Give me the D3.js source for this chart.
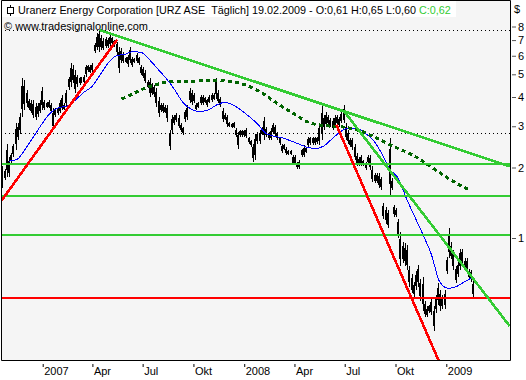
<!DOCTYPE html>
<html>
<head>
<meta charset="utf-8">
<script src="https://cdnjs.cloudflare.com/ajax/libs/d3/7.8.5/d3.min.js"></script>
<style>
  html, body { margin: 0; padding: 0; background: #fff; }
  svg { display: block; font-family: "Liberation Sans", sans-serif; }
</style>
</head>
<body>
<div id="chart"></div>
<script>
// Daily range, every few days (first bar 20.10.2006, last 19.02.2009)
const highs = [
  2.02,1.98,2.53,2.22,2.30,2.53,3.09,3.09,3.41,4.81,
  4.73,4.29,3.94,3.88,3.88,3.76,3.76,3.88,4.43,3.88,
  3.82,3.88,3.76,3.58,3.58,3.64,3.88,4.08,3.76,4.29,
  4.89,5.57,5.48,5.22,4.97,4.89,4.89,4.97,5.48,5.48,
  5.48,5.57,6.78,7.48,7.73,7.36,7.13,7.24,7.13,7.36,
  7.24,7.00,6.89,6.56,6.45,6.25,5.95,6.05,6.56,5.95,
  5.85,6.15,5.95,5.48,5.39,5.22,4.73,4.81,4.58,4.50,
  4.36,4.01,3.76,3.76,3.70,3.70,2.89,3.35,3.35,3.41,
  3.35,3.09,2.99,3.52,3.70,4.36,4.29,4.15,3.76,3.82,
  4.08,4.08,4.01,3.94,4.08,4.15,4.15,4.81,4.29,4.01,
  3.58,3.41,3.35,3.14,3.09,3.14,2.94,2.84,2.89,2.89,
  2.89,2.94,2.71,2.62,2.53,2.79,2.84,2.89,2.99,3.30,
  2.99,2.84,2.94,3.09,3.04,2.84,2.71,2.53,2.53,2.45,
  2.38,2.38,2.26,2.26,2.12,2.15,2.41,2.49,2.45,2.71,
  2.71,2.71,2.71,2.71,3.09,3.66,3.35,3.46,3.35,3.24,
  3.24,3.35,3.35,3.30,3.46,3.70,3.09,2.89,2.67,2.67,
  2.53,2.30,2.22,2.26,2.15,2.12,2.26,2.26,2.02,1.89,
  1.89,1.89,1.83,1.41,1.36,1.32,2.68,1.80,1.39,1.34,
  1.21,1.06,0.96,0.95,0.93,0.76,0.70,0.65,0.72,0.77,
  0.67,0.68,0.54,0.51,0.52,0.55,0.51,0.57,0.64,0.60,
  0.57,0.60,0.83,1.10,0.96,0.89,0.76,0.79,0.90,0.90,
  0.82,0.82,0.74,0.73,0.66
];
const lows = [
  1.63,1.77,1.83,1.83,2.08,2.22,2.38,2.62,2.79,3.30,
  3.52,3.64,3.52,3.41,3.24,3.19,3.30,3.41,3.52,3.52,
  3.58,3.58,3.41,2.89,3.30,3.35,3.41,3.52,3.52,3.64,
  4.29,4.43,4.58,4.15,4.43,4.50,4.58,4.58,4.89,5.13,
  5.05,5.13,6.15,6.35,6.25,6.35,6.35,6.45,6.45,6.56,
  6.67,6.56,6.05,5.05,5.57,5.57,5.57,5.39,5.57,5.39,
  5.57,5.57,5.48,4.97,4.81,4.58,4.36,4.01,4.08,4.01,
  3.64,3.30,3.46,3.41,3.41,3.14,2.38,2.79,3.04,3.14,
  2.94,2.84,2.75,3.14,3.19,3.76,3.70,3.76,3.52,3.58,
  3.70,3.70,3.76,3.64,3.76,3.82,3.88,3.94,3.76,3.64,
  3.14,3.19,2.99,2.99,2.94,2.94,2.71,2.41,2.71,2.71,
  2.71,2.67,2.53,2.45,2.12,2.15,2.53,2.53,2.75,2.62,
  2.71,2.62,2.62,2.79,2.71,2.62,2.49,2.30,2.38,2.26,
  2.26,2.26,2.05,2.05,1.98,1.98,2.22,2.22,2.30,2.45,
  2.49,2.49,2.49,2.53,2.49,2.62,2.89,2.99,3.04,2.99,
  2.89,2.94,3.04,2.99,3.09,3.09,2.62,2.53,2.45,2.38,
  2.15,2.02,2.02,2.02,2.02,1.95,2.08,1.95,1.74,1.71,
  1.71,1.63,1.60,1.21,1.15,1.10,1.52,1.60,1.23,1.23,
  1.00,0.76,0.78,0.76,0.73,0.62,0.58,0.56,0.60,0.62,
  0.54,0.49,0.46,0.46,0.48,0.47,0.40,0.48,0.52,0.49,
  0.50,0.50,0.70,0.82,0.81,0.73,0.64,0.68,0.73,0.77,
  0.73,0.72,0.67,0.65,0.56
];

// Blue average, one reading every 15 days from 01.11.2006
const avgValues = [
  2.13,2.17,2.41,2.72,3.08,3.42,3.60,3.66,3.88,4.18,
  4.43,4.97,5.60,6.01,6.09,6.25,6.19,5.75,5.25,4.79,
  4.30,3.79,3.55,3.47,3.51,3.69,3.79,3.71,3.52,3.30,
  3.07,2.80,2.72,2.68,2.60,2.52,2.44,2.41,2.47,2.65,
  2.84,2.95,2.94,2.80,2.61,2.30,1.96,1.80,1.47,1.23,
  1.03,0.85,0.65,0.61,0.62,0.65,0.68
];

// Dotted dark green average
const longAvgDates = [
  "2007-05-24","2007-06-01","2007-07-01","2007-08-01","2007-09-01","2007-10-01","2007-11-01","2007-12-01",
  "2008-01-01","2008-02-01","2008-03-01","2008-04-01","2008-05-01","2008-06-01","2008-07-01","2008-08-01",
  "2008-09-01","2008-10-01","2008-11-01","2008-12-01","2009-01-01","2009-02-01","2009-02-10"
];
const longAvgValues = [
  3.92,4.00,4.32,4.56,4.68,4.68,4.70,4.68,
  4.52,4.18,3.75,3.38,3.09,3.01,2.97,2.85,
  2.64,2.44,2.26,2.04,1.82,1.65,1.61
];

// Horizontal levels
const greenLevels = [2.07, 1.51, 1.03];
const redLevels = [0.554];
const dottedLevels = [7.73, 2.82];

// Trend lines: [start date, start price, end date, end price]
const greenTrends = [
  ["2007-04-14", 7.73, "2009-04-26", 2.02],
  ["2008-07-01", 3.45, "2009-04-26", 0.42]
];
const redTrends = [
  ["2006-10-19", 1.45, "2007-05-16", 7.05],
  ["2008-06-16", 3.04, "2008-12-18", 0.30]
];

const priceTicks = [1, 2, 3, 4, 5, 6, 7, 8];
const timeTicks = ["2007-01-01","2007-04-01","2007-07-01","2007-10-01","2008-01-01","2008-04-01","2008-07-01","2008-10-01","2009-01-01"];
const timeLabels = ["2007","Apr","Jul","Okt","2008","Apr","Jul","Okt","2009"];

const titleText = "Uranerz Energy Corporation [URZ ASE\u00a0\u00a0Täglich] 19.02.2009 - O:0,61 H:0,65 L:0,60 ";
const closeText = "C:0,62";
const creditText = "© www.tradesignalonline.com";

const width = 526, height = 380;
const plot = { left: 2, right: 510, top: 1, bottom: 360 };
const day = d3.utcParse("%Y-%m-%d");

const x = d3.scaleUtc()
  .domain([day("2007-01-01"), day("2009-01-01")])
  .range([42.7, 446.3]);

const y = d3.scaleLog()
  .domain([1, 8])
  .range([238, 26.5]);

const svg = d3.select("#chart")
  .append("svg")
  .attr("width", width)
  .attr("height", height);

svg.append("defs")
  .append("clipPath")
  .attr("id", "plot-clip")
  .append("rect")
  .attr("x", plot.left)
  .attr("y", plot.top)
  .attr("width", plot.right - plot.left)
  .attr("height", plot.bottom - plot.top);

// Plot background
svg.append("rect")
  .attr("x", plot.left)
  .attr("y", plot.top)
  .attr("width", plot.right - plot.left)
  .attr("height", plot.bottom - plot.top)
  .attr("fill", "#f5f5f5");

const marks = svg.append("g").attr("clip-path", "url(#plot-clip)");

// Dotted levels
marks.selectAll(".dotted")
  .data(dottedLevels)
  .enter()
  .append("line")
  .attr("x1", plot.left + 3)
  .attr("x2", plot.right)
  .attr("y1", d => Math.round(y(d)) + 0.5)
  .attr("y2", d => Math.round(y(d)) + 0.5)
  .attr("stroke", "#000")
  .attr("stroke-dasharray", "1 3");

// Bars: 1px wick over the full range, thicker through the middle of it
const firstBar = day("2006-10-20");
const barDates = highs.map((d, i) => d3.utcDay.offset(firstBar, Math.round(i * 853 / (highs.length - 1))));

marks.selectAll(".wick")
  .data(highs)
  .enter()
  .append("line")
  .attr("class", "wick")
  .attr("x1", (d, i) => Math.round(x(barDates[i])) + 0.5)
  .attr("x2", (d, i) => Math.round(x(barDates[i])) + 0.5)
  .attr("y1", d => y(d))
  .attr("y2", (d, i) => y(lows[i]))
  .attr("stroke", "#000")
  .attr("stroke-width", 1)
  .attr("shape-rendering", "crispEdges");

marks.selectAll(".bar")
  .data(highs)
  .enter()
  .append("line")
  .attr("class", "bar")
  .attr("x1", (d, i) => Math.round(x(barDates[i])))
  .attr("x2", (d, i) => Math.round(x(barDates[i])))
  .attr("y1", (d, i) => y(d) + (y(lows[i]) - y(d)) * 0.2)
  .attr("y2", (d, i) => y(lows[i]) - (y(lows[i]) - y(d)) * 0.2)
  .attr("stroke", "#000")
  .attr("stroke-width", 2)
  .attr("shape-rendering", "crispEdges");

// Blue average
const avgDates = avgValues.map((d, i) => d3.utcDay.offset(day("2006-11-01"), i * 15));
marks.append("path")
  .datum(avgValues)
  .attr("fill", "none")
  .attr("stroke", "#0000ff")
  .attr("stroke-width", 1)
  .attr("shape-rendering", "crispEdges")
  .attr("d", d3.line()
    .x((d, i) => x(avgDates[i]))
    .y(d => y(d))
    .curve(d3.curveMonotoneX));

// Dark green dotted average
marks.append("path")
  .datum(longAvgValues)
  .attr("fill", "none")
  .attr("stroke", "#006400")
  .attr("stroke-width", 3)
  .attr("stroke-dasharray", "4 3.3")
  .attr("shape-rendering", "crispEdges")
  .attr("d", d3.line()
    .x((d, i) => x(day(longAvgDates[i])))
    .y(d => y(d))
    .curve(d3.curveMonotoneX));

// Horizontal levels
function drawLevels(levels, color) {
  marks.selectAll(null)
    .data(levels)
    .enter()
    .append("line")
    .attr("x1", plot.left)
    .attr("x2", plot.right)
    .attr("y1", d => Math.round(y(d)))
    .attr("y2", d => Math.round(y(d)))
    .attr("stroke", color)
    .attr("stroke-width", 2)
    .attr("shape-rendering", "crispEdges");
}
drawLevels(greenLevels, "#33cc33");
drawLevels(redLevels, "#ff0000");

// Trend lines
function drawTrends(trends, color) {
  marks.selectAll(null)
    .data(trends)
    .enter()
    .append("line")
    .attr("x1", d => x(day(d[0])))
    .attr("y1", d => y(d[1]))
    .attr("x2", d => x(day(d[2])))
    .attr("y2", d => y(d[3]))
    .attr("stroke", color)
    .attr("stroke-width", 2.6)
    .attr("shape-rendering", "crispEdges");
}
drawTrends(greenTrends, "#33cc33");
drawTrends(redTrends, "#ff0000");

// Frame
svg.append("path")
  .attr("d", `M${plot.left - 0.5},0.5 V${plot.bottom + 0.5} H${plot.right + 0.5} V0.5 Z`)
  .attr("fill", "none")
  .attr("stroke", "#000")
  .attr("stroke-width", 1);

// Right price axis
const yAxis = svg.append("g")
  .attr("transform", "translate(512,0)")
  .call(d3.axisRight(y).tickValues(priceTicks).tickFormat(d3.format("d")).tickSize(4).tickPadding(2));
yAxis.select(".domain").remove();
yAxis.selectAll("line").attr("stroke", "#555");
yAxis.selectAll("text").style("font-size", "11px").style("font-family", "Liberation Sans").attr("fill", "#000");

svg.append("text")
  .attr("x", 514)
  .attr("y", 13)
  .style("font-size", "11px")
  .text("$");

// Bottom time axis, ticks sit just under the frame with the label to their right
const xAxis = svg.append("g")
  .attr("transform", "translate(0,364)")
  .call(d3.axisBottom(x)
    .tickValues(timeTicks.map(day))
    .tickFormat((d, i) => timeLabels[i])
    .tickSize(3)
    .tickPadding(0));
xAxis.select(".domain").remove();
xAxis.selectAll("line").attr("stroke", "#000");
xAxis.selectAll("text")
  .attr("text-anchor", "start")
  .attr("dx", 1)
  .attr("dy", "0.75em")
  .style("font-size", "11px")
  .style("font-family", "Liberation Sans")
  .attr("fill", "#000");

// Header box
svg.append("rect")
  .attr("x", 2)
  .attr("y", 1)
  .attr("width", 454)
  .attr("height", 16)
  .attr("fill", "#fff");

const icon = svg.append("g").attr("transform", "translate(10,0)");
icon.append("line").attr("x1", 0.5).attr("x2", 0.5).attr("y1", 5).attr("y2", 16).attr("stroke", "#000");
icon.append("rect").attr("x", -2.5).attr("y", 7.5).attr("width", 6).attr("height", 6).attr("fill", "#fff").attr("stroke", "#000");

const title = svg.append("text")
  .attr("x", 18)
  .attr("y", 14)
  .style("font-size", "10.8px");
title.append("tspan").text(titleText);
title.append("tspan").attr("fill", "#33cc33").text(closeText);

svg.append("text")
  .attr("x", 4)
  .attr("y", 30)
  .attr("textLength", 144)
  .attr("lengthAdjust", "spacingAndGlyphs")
  .style("font-size", "11px")
  .text(creditText);
</script>
</body>
</html>
